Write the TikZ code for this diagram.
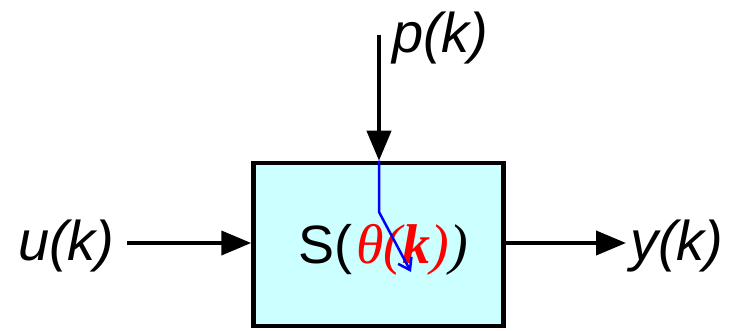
\documentclass[tikz,border=0pt]{standalone}
\usepackage{fontspec}
\setmainfont{Liberation Sans}
\newfontfamily\serifit{Liberation Serif}
\usetikzlibrary{arrows.meta}
\definecolor{boxfill}{RGB}{204,255,255}
\tikzset{
  sig/.style={line width=4pt,-{Triangle[length=30pt,width=24pt]}},
  lbl/.style={font=\fontsize{56}{60}\selectfont\itshape,inner sep=0pt},
  sysbox/.style={draw=black,line width=4.5pt,fill=boxfill,minimum width=250pt,minimum height=163pt,inner sep=0pt},
  turn/.style={draw=blue,line width=2.5pt,-{Straight Barb[length=11pt,width=15pt]}}
}
\begin{document}
\begin{tikzpicture}[x=1pt,y=-1pt]
\useasboundingbox (0,0) rectangle (733,331);
\node[sysbox] (S) at (378.5,244.5) {};
\node[font=\fontsize{54}{60}\selectfont,inner sep=0pt,anchor=base west] (txt) at (298,263) {S(\kern4pt\textcolor{red}{{\serifit\itshape\fontsize{56}{60}\selectfont θ(\textbf{k})}}{\serifit\itshape\fontsize{56}{60}\selectfont )}};
\coordinate (pin) at (379,35);
\coordinate (uin) at (127,243);
\coordinate (yout) at (626,243);
\node[lbl,anchor=base west] (p) at (392,53) {p(k)};
\node[lbl,anchor=base west] (u) at (18,260) {u(k)};
\node[lbl,anchor=base west] (y) at (630,260) {y(k)};
\draw[sig] (pin) -- (S.north -| pin);
\draw[sig] (uin) -- (S.west |- uin);
\draw[sig] (S.east |- yout) -- (yout);
\coordinate (bend) at (379,212);
\coordinate (tip) at (411,272);
\draw[turn] (S.north -| pin) -- (bend) -- (tip);
\end{tikzpicture}
\end{document}
